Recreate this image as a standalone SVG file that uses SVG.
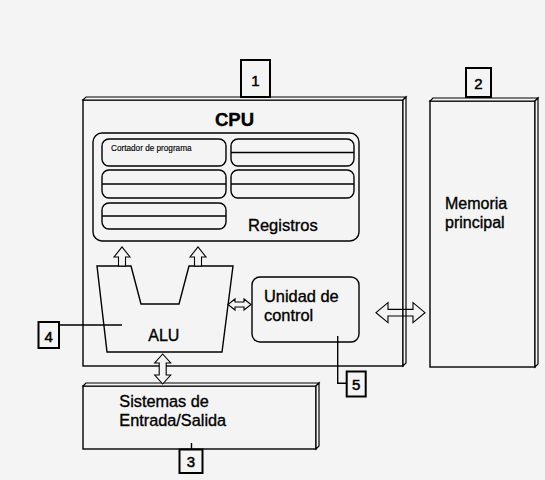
<svg xmlns="http://www.w3.org/2000/svg" width="545" height="480" viewBox="0 0 545 480">
<style>
.ln{fill:none;stroke:#000;stroke-width:1.4;stroke-linejoin:miter}
.bx{fill:#f4f4f4;stroke:#000;stroke-width:1.4}
.bv{fill:#f4f4f4;stroke:#000;stroke-width:1.2}
.tag{fill:#f4f4f4;stroke:#000;stroke-width:2}
.t{font-family:"Liberation Sans",Arial,sans-serif;fill:#000;stroke:#000;stroke-width:0.35}
.num{font-family:"Liberation Sans",Arial,sans-serif;font-size:15px;fill:#000;stroke:#000;stroke-width:0.5;text-anchor:middle}
.arr{fill:#f4f4f4;stroke:#000;stroke-width:1.1;stroke-linejoin:miter}
</style>
<rect width="545" height="480" fill="#f4f4f4"/>

<g id="cpu">
  <rect class="bx" x="83" y="100" width="320" height="266"/>
  <polygon class="bv" points="83,100 86,97 406,97 403,100"/>
  <polygon class="bv" points="403,100 406,97 406,363 403,366"/>
  <text class="t" x="234.5" y="126" font-size="18.5" font-weight="bold" text-anchor="middle">CPU</text>
</g>

<g id="registros">
  <rect class="bx" x="93" y="133" width="266" height="108" rx="9"/>
  <rect class="bx" x="102" y="139" width="124" height="27" rx="7"/>
  <text class="t" x="111" y="150.5" font-size="8.2" style="stroke-width:0.15">Cortador de programa</text>
  <rect class="bx" x="231" y="139" width="123" height="27" rx="7"/>
  <line class="ln" x1="231" y1="152.5" x2="354" y2="152.5"/>
  <rect class="bx" x="102" y="170" width="124" height="28" rx="7"/>
  <line class="ln" x1="102" y1="184" x2="226" y2="184"/>
  <rect class="bx" x="231" y="170" width="123" height="28" rx="7"/>
  <line class="ln" x1="231" y1="184" x2="354" y2="184"/>
  <rect class="bx" x="102" y="203" width="124" height="26" rx="7"/>
  <line class="ln" x1="102" y1="216" x2="226" y2="216"/>
  <text class="t" x="248" y="231" font-size="16.5">Registros</text>
</g>

<g id="alu">
  <polygon class="bx" points="97,266 131,266 141,304 179,304 189,266 233,266 222,352 107,352"/>
  <text class="t" x="148.3" y="341" font-size="16">ALU</text>
</g>

<g id="unidad-control">
  <rect class="bx" x="252" y="277" width="107" height="65" rx="8"/>
  <text class="t" x="264" y="302" font-size="16.4">Unidad de</text>
  <text class="t" x="264" y="321" font-size="16.4">control</text>
</g>

<g id="memoria">
  <rect class="bx" x="430" y="101" width="105" height="266"/>
  <polygon class="bv" points="430,101 433,98 538,98 535,101"/>
  <polygon class="bv" points="535,101 538,98 538,364 535,367"/>
  <text class="t" x="445" y="209.3" font-size="16">Memoria</text>
  <text class="t" x="445" y="227.7" font-size="16">principal</text>
</g>

<g id="entrada-salida">
  <rect class="bx" x="83" y="386" width="233" height="63"/>
  <polygon class="bv" points="83,386 86,383 319,383 316,386"/>
  <polygon class="bv" points="316,386 319,383 319,446 316,449"/>
  <text class="t" x="119.3" y="406.7" font-size="16.3">Sistemas de</text>
  <text class="t" x="119.3" y="425.7" font-size="16.3">Entrada/Salida</text>
</g>

<g id="label-1">
  <rect class="tag" x="241" y="60" width="29" height="37"/>
  <text class="num" x="255.5" y="86">1</text>
</g>
<g id="label-2">
  <rect class="tag" x="466" y="68" width="25" height="29"/>
  <text class="num" x="478.5" y="89.3">2</text>
</g>
<g id="label-3">
  <rect class="tag" x="179.5" y="449.5" width="23" height="23.5"/>
  <text class="num" x="191" y="466.7">3</text>
</g>
<g id="label-4">
  <rect class="tag" x="38.5" y="322" width="20.5" height="26"/>
  <text class="num" x="48.7" y="341.5">4</text>
</g>
<g id="label-5">
  <rect class="tag" x="346.7" y="371.5" width="19" height="25"/>
  <text class="num" x="356.2" y="390">5</text>
</g>

<g id="connectors">
  <path class="arr" d="M118.5,266 V257 H114 L122,247 L130,257 H125.5 V266 Z"/>
  <path class="arr" d="M194.5,266 V257 H190 L198,247 L206,257 H201.5 V266 Z"/>
  <path class="arr" d="M228,304.5 L235,299 V302 H244 V299 L251,304.5 L244,310 V307 H235 V310 Z"/>
  <path class="arr" d="M162.7,354 L170.7,363 H166.2 V375 H170.7 L162.7,384 L154.7,375 H159.2 V363 H154.7 Z"/>
  <path class="arr" style="fill:none" d="M376,312.7 L388,302.7 V309.4 H413 V302.7 L425,312.7 L413,322.7 V316 H388 V322.7 Z"/>
  <path class="ln" d="M59,325 H122"/>
  <path class="ln" d="M337.7,336 V383.3 H346.7"/>
  <path class="ln" d="M191.5,443 V449.5"/>
</g>
</svg>
